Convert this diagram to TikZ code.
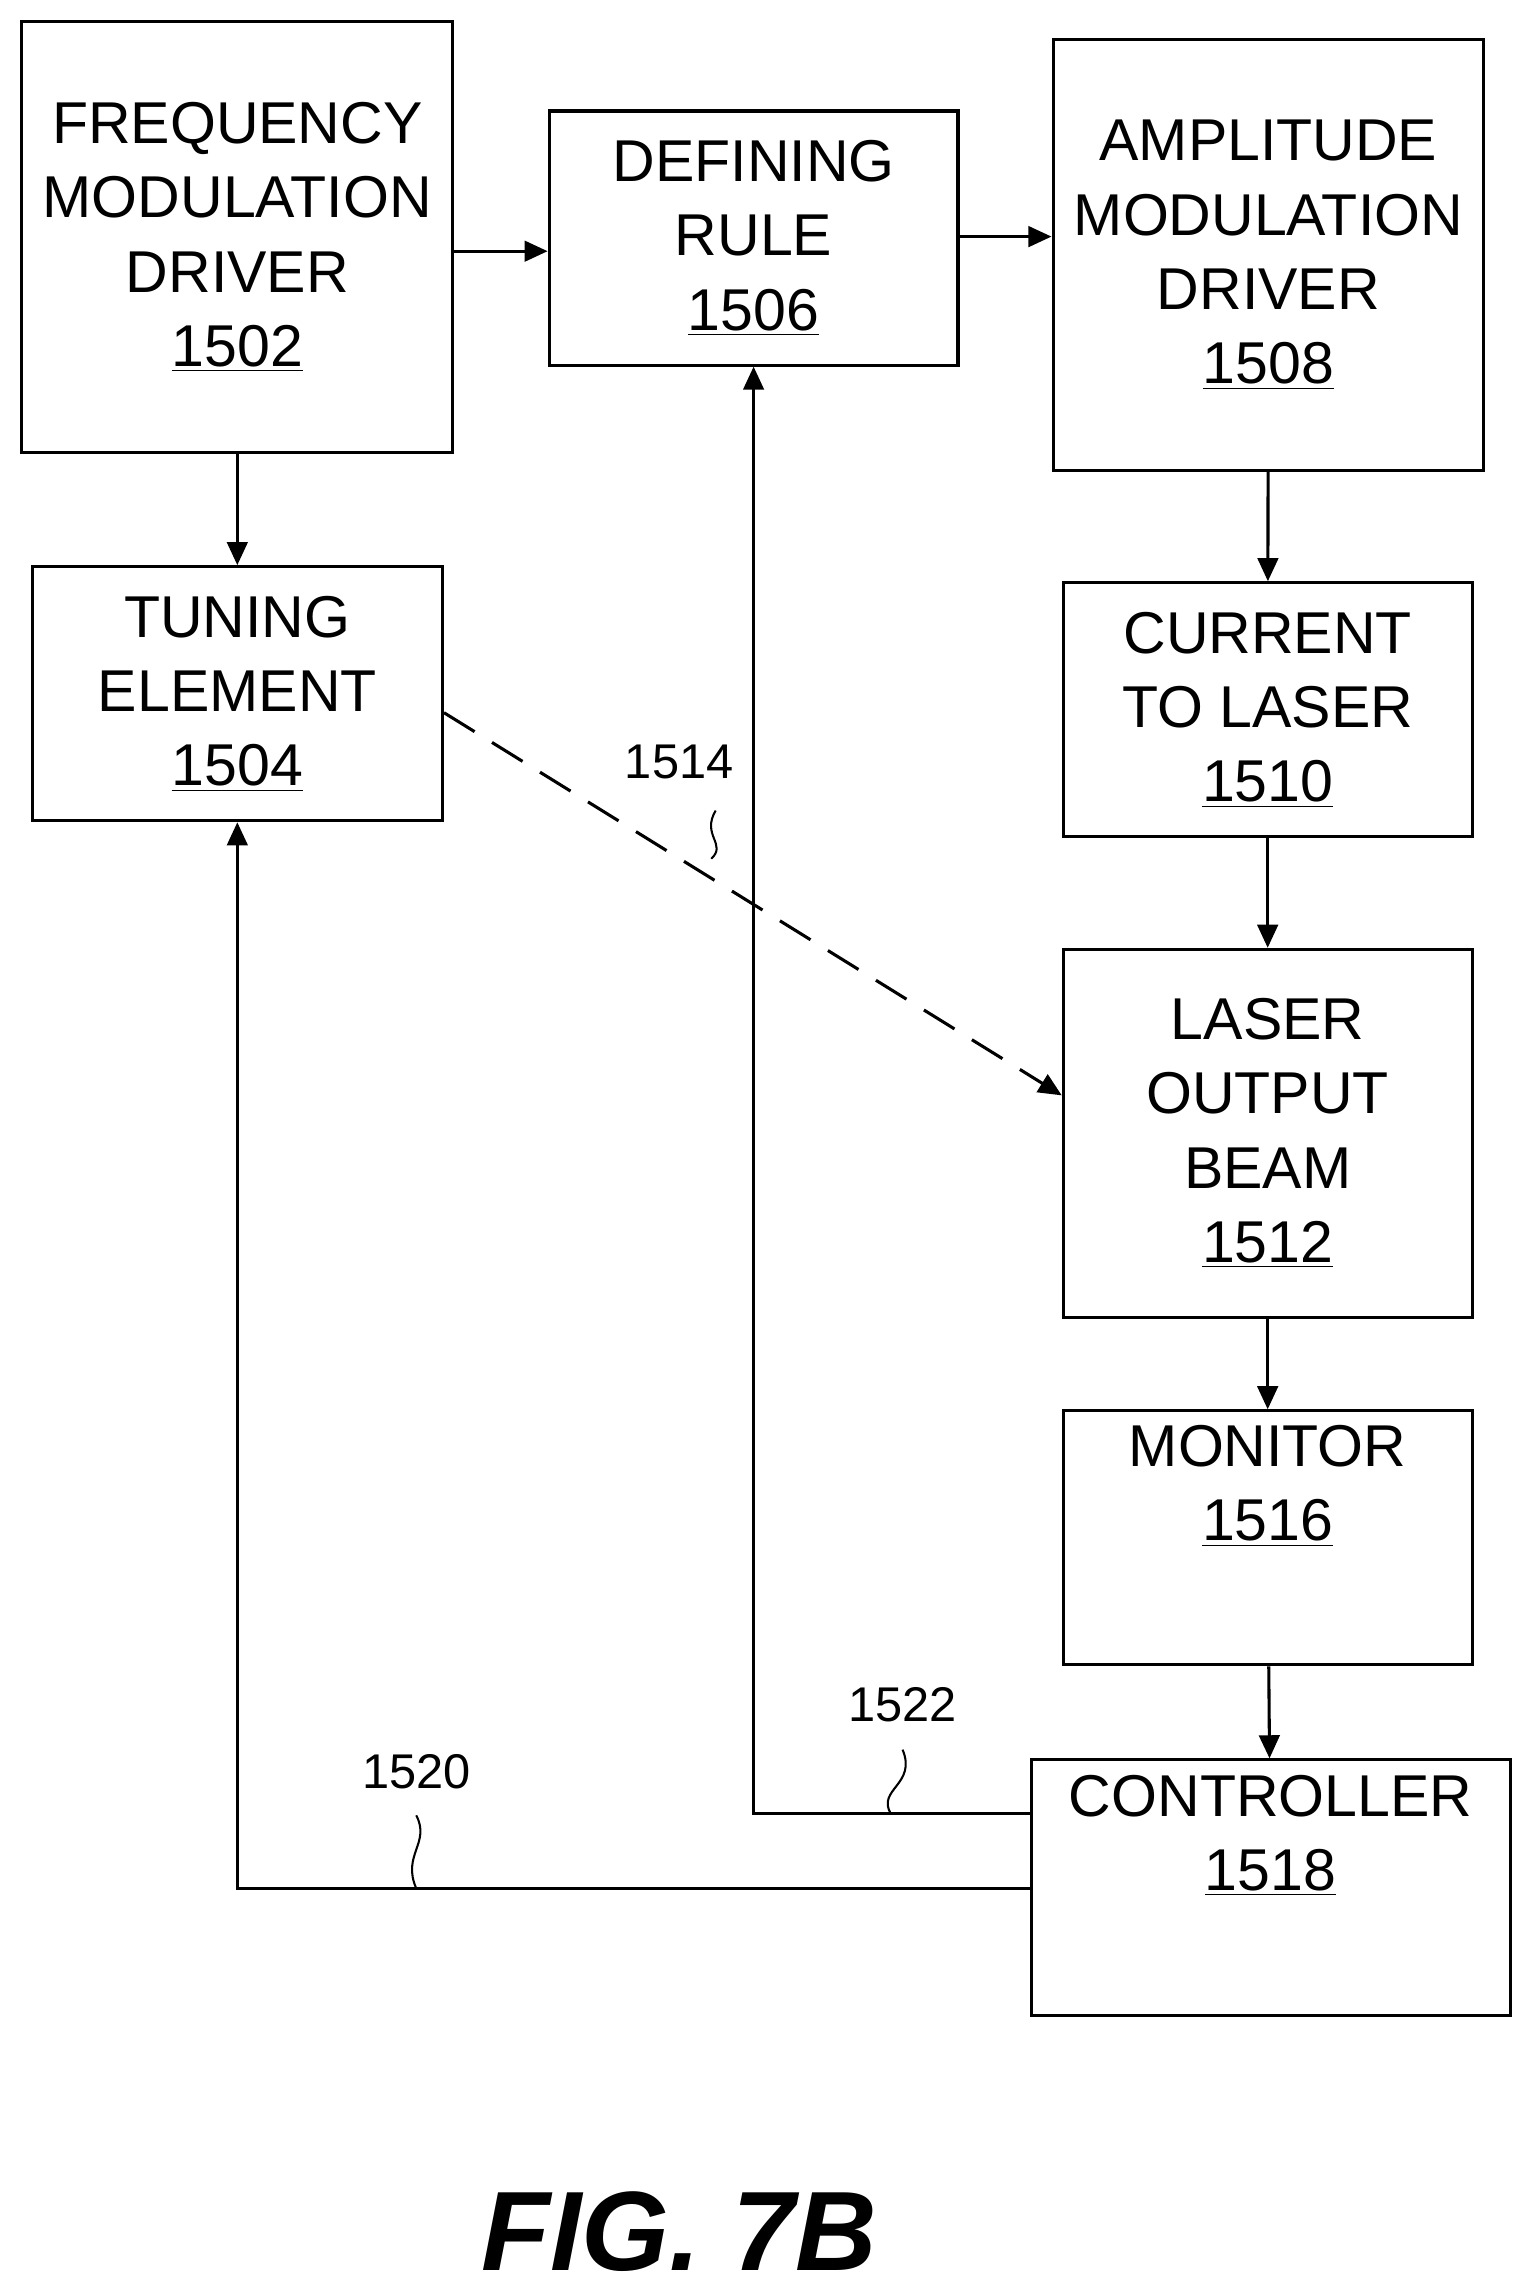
\documentclass[tikz,border=0pt]{standalone}
\usepackage{fontspec}
\setmainfont{Liberation Sans}
\usetikzlibrary{arrows.meta, positioning, calc}

\begin{document}
\begin{tikzpicture}[x=0.02cm, y=-0.02cm, font=\fontsize{23}{29}\selectfont,
  blk/.style={draw, line width=1.2pt, align=center, inner sep=0pt},
  arr/.style={-{Triangle[length=9pt,width=8pt]}, line width=1.2pt},
  lbl/.style={font=\fontsize{19}{22}\selectfont}]
\useasboundingbox (0,0) rectangle (1050,1568);

% Bloques
\node[blk, minimum width=5.9cm, minimum height=5.9cm] (fmd) at (162.5,162.5) {FREQUENCY\\MODULATION\\DRIVER\\\underline{1502}};
\node[blk, minimum width=5.6cm, minimum height=3.48cm] (rule) at (516,163) {DEFINING\\RULE\\\underline{1506}};
\node[blk, minimum width=5.9cm, minimum height=5.9cm] (amd) at (868.5,174.5) {AMPLITUDE\\MODULATION\\DRIVER\\\underline{1508}};
\node[blk, minimum width=5.62cm, minimum height=3.48cm] (tune) at (162.5,475) {TUNING\\ELEMENT\\\underline{1504}};
\node[blk, minimum width=5.6cm, minimum height=3.48cm] (cur) at (868,486) {CURRENT\\TO LASER\\\underline{1510}};
\node[blk, minimum width=5.6cm, minimum height=5.04cm] (beam) at (868,776) {LASER\\OUTPUT\\BEAM\\\underline{1512}};
\node[blk, minimum width=5.6cm, minimum height=3.48cm, text depth=1.5cm] (mon) at (868,1053) {MONITOR\\\underline{1516}};
\node[blk, minimum width=6.56cm, minimum height=3.5cm, text depth=1.5cm] (ctrl) at (870,1292.5) {CONTROLLER\\\underline{1518}};

% Flechas
\draw[arr] (fmd.east |- 0,172) -- (rule.west |- 0,172);
\draw[arr] (rule.east |- 0,162) -- (amd.west |- 0,162);
\draw[arr] (fmd) -- (tune);
\draw[arr] (amd) -- (cur);
\draw[arr] (cur) -- (beam);
\draw[arr] (beam) -- (mon);
\draw[arr] (mon) -- (ctrl);
\draw[arr, dashed, dash pattern=on 14pt off 8pt] (tune.east |- 0,488) -- (beam.west |- 0,750);
\draw[arr] (ctrl.west |- 0,1242) -| (rule.south);
\draw[arr] (ctrl.west |- 0,1293) -| (tune.south);

% Etiquetas
\node[lbl] (l1514) at (465,522) {1514};
\node[lbl] (l1522) at (618,1167) {1522};
\node[lbl] (l1520) at (285,1213) {1520};
\draw[line width=0.8pt] (487,588) .. controls (498,578) and (480,572) .. (490,555);
\draw[line width=0.8pt] (610,1242) .. controls (600,1225) and (628,1222) .. (618,1198);
\draw[line width=0.8pt] (285,1293) .. controls (275,1270) and (295,1262) .. (285,1243);

\node[font=\bfseries\itshape\fontsize{44}{50}\selectfont] (fig) at (465,1528) {FIG. 7B};
\end{tikzpicture}
\end{document}
